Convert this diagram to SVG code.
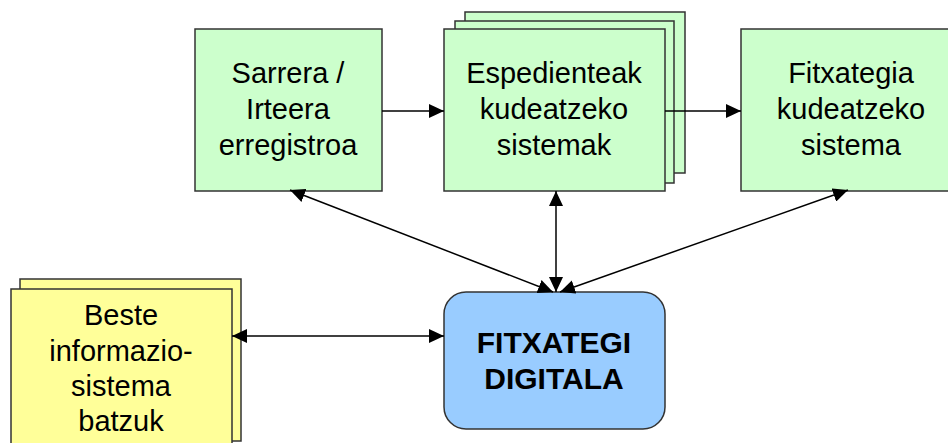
<svg xmlns="http://www.w3.org/2000/svg" width="948" height="443" viewBox="0 0 948 443">
<defs>
<style>
.box{stroke:#333;stroke-width:1.5}
.g{fill:#CCFFCC}
.y{fill:#FFFF99}
.b{fill:#99CCFF}
.t{font-family:"Liberation Sans",Arial,sans-serif;font-size:29px;fill:#000;text-anchor:middle}
.tb{font-family:"Liberation Sans",Arial,sans-serif;font-size:30px;font-weight:bold;fill:#000;text-anchor:middle}
.c{stroke:#000;stroke-width:1.5;fill:none}
</style>
<marker id="ah" viewBox="0 0 15 14" refX="15" refY="7" markerWidth="15" markerHeight="14" markerUnits="userSpaceOnUse" orient="auto-start-reverse">
<path d="M0,0 L15,7 L0,14 z" fill="#000"/>
</marker>
</defs>
<rect width="948" height="443" fill="#fff"/>
<g id="sarrera">
<rect class="box g" x="195" y="29" width="187" height="162"/>
<text class="t" x="288" y="83">Sarrera /</text>
<text class="t" x="288" y="119">Irteera</text>
<text class="t" x="288" y="155">erregistroa</text>
</g>
<g id="espedienteak">
<rect class="box g" x="465" y="12" width="220" height="161"/>
<rect class="box g" x="455" y="21" width="219" height="162"/>
<rect class="box g" x="444" y="29" width="221" height="162"/>
<text class="t" x="554" y="83">Espedienteak</text>
<text class="t" x="554" y="119">kudeatzeko</text>
<text class="t" x="554" y="155">sistemak</text>
</g>
<g id="fitxategia">
<rect class="box g" x="741" y="29" width="220" height="162"/>
<text class="t" x="851" y="83">Fitxategia</text>
<text class="t" x="851" y="119">kudeatzeko</text>
<text class="t" x="851" y="155">sistema</text>
</g>
<g id="beste">
<rect class="box y" x="20" y="279" width="221" height="162"/>
<rect class="box y" x="11" y="289" width="221" height="162"/>
<text class="t" x="121" y="325">Beste</text>
<text class="t" x="121" y="361">informazio-</text>
<text class="t" x="121" y="396">sistema</text>
<text class="t" x="121" y="431">batzuk</text>
</g>
<g id="fitxategi-digitala">
<rect class="box b" x="444" y="292" width="221" height="137" rx="22" ry="22"/>
<text class="tb" x="554" y="353">FITXATEGI</text>
<text class="tb" x="554" y="389">DIGITALA</text>
</g>
<g id="connectors">
<line class="c" x1="382" y1="111" x2="444" y2="111" marker-end="url(#ah)"/>
<line class="c" x1="665" y1="111" x2="741" y2="111" marker-end="url(#ah)"/>
<line class="c" x1="553" y1="292" x2="290" y2="190" marker-start="url(#ah)" marker-end="url(#ah)"/>
<line class="c" x1="556" y1="292" x2="556" y2="191" marker-start="url(#ah)" marker-end="url(#ah)"/>
<line class="c" x1="560" y1="292" x2="848" y2="190" marker-start="url(#ah)" marker-end="url(#ah)"/>
<line class="c" x1="444" y1="336" x2="232" y2="336" marker-start="url(#ah)" marker-end="url(#ah)"/>
</g>
</svg>
